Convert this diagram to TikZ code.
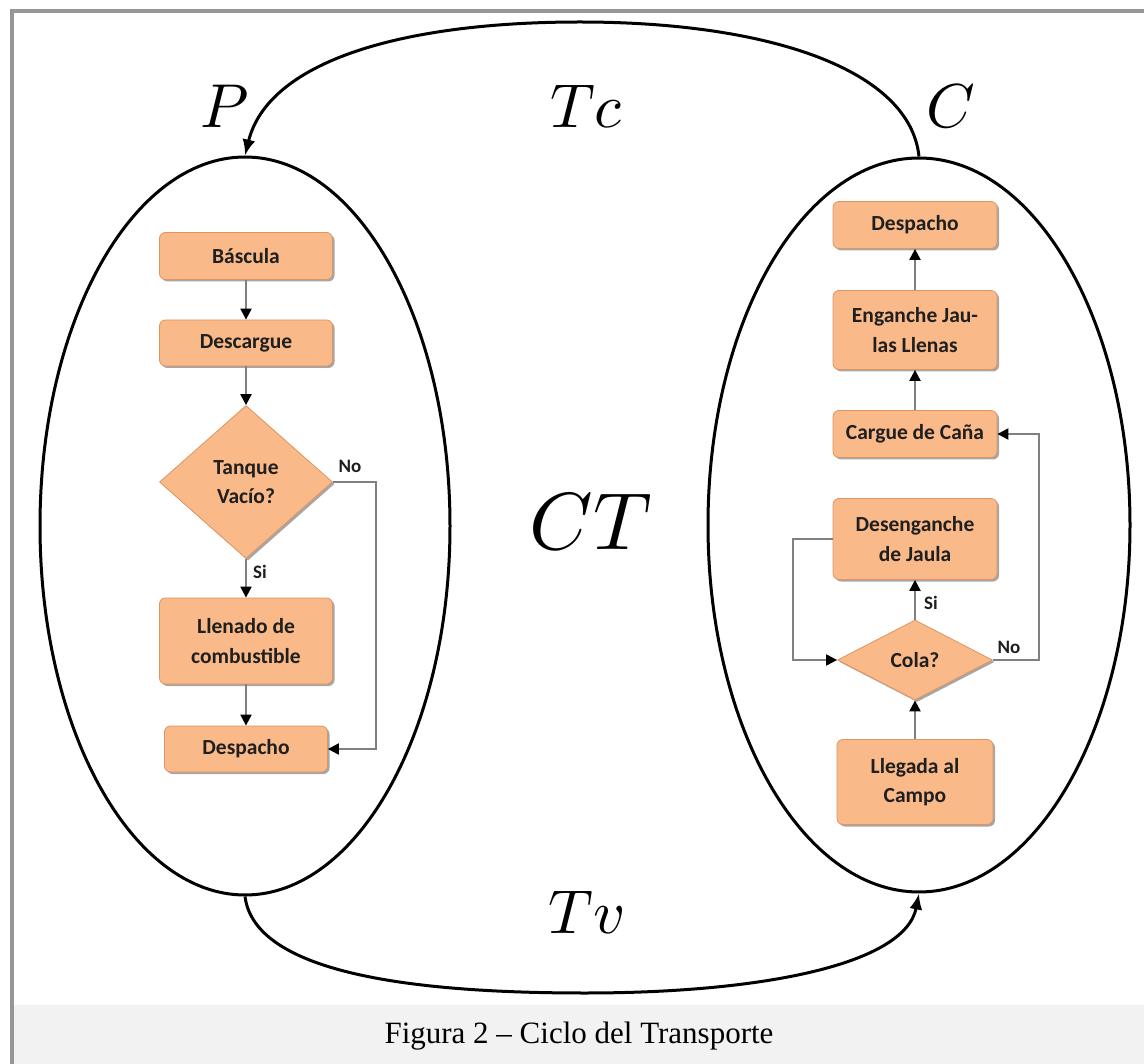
\documentclass[tikz,border=0pt]{standalone}
\usepackage{fontspec}
\newfontfamily\boxfont{Carlito}
\newfontfamily\capfont{Liberation Serif}
\usetikzlibrary{arrows.meta,shapes.geometric,shadows}
\definecolor{peach}{RGB}{249,185,137}
\definecolor{peachedge}{RGB}{224,148,98}
\definecolor{conn}{RGB}{128,128,128}
\definecolor{framegray}{RGB}{150,150,150}
\definecolor{band}{RGB}{242,242,242}
\begin{document}
\begin{tikzpicture}[x=1pt,y=-1pt,
  box/.style={rectangle, rounded corners=6pt, fill=peach, draw=peachedge, line width=0.8pt,
    drop shadow={shadow xshift=2pt,shadow yshift=-2pt,opacity=0.35,fill=black},
    font=\boxfont\bfseries\fontsize{21.5}{29.5}\selectfont, text=black!88, align=center, inner sep=0pt},
  dec/.style={diamond, fill=peach, draw=peachedge, line width=0.8pt,
    drop shadow={shadow xshift=2pt,shadow yshift=-2pt,opacity=0.35,fill=black},
    font=\boxfont\bfseries\fontsize{21.5}{29.5}\selectfont, text=black!88, align=center, inner sep=0pt},
  flow/.style={draw=conn, line width=2.2pt, -{Triangle[length=11pt,width=11pt,color=black]}},
  lbl/.style={font=\boxfont\bfseries\fontsize{19}{21}\selectfont, text=black!88},
  oval/.style={ellipse, draw=black, line width=3pt, inner sep=0pt},
  cyc/.style={draw=black, line width=3pt, -{Latex[length=16pt,width=13pt]}},
  mlbl/.style={font=\fontsize{10}{12}\selectfont, scale=6.2, inner sep=0pt}
]
\useasboundingbox (0,0) rectangle (1144,1064);
\fill[white] (0,0) rectangle (1144,1064);
\fill[band] (14,1005) rectangle (1144,1064);
\draw[framegray, line width=4pt] (12,1064) -- (12,11) -- (1144,11);

% ovals
\node[oval, minimum width=410pt, minimum height=738pt] (EL) at (245,526) {};
\node[oval, minimum width=422pt, minimum height=734pt] (ER) at (919,525) {};

% cycle arcs
\coordinate (topmid) at (580,22);
\coordinate (botmid) at (585,993);
\draw[cyc] (ER.north) .. controls (910,70) and (770,22) .. (topmid)
  .. controls (400,22) and (268,62) .. (EL.north);
\draw[cyc] (EL.south) .. controls (255,975) and (420,993) .. (botmid)
  .. controls (760,993) and (905,965) .. (ER.south);

% math labels
\node[mlbl] (P) at (225,106) {$P$};
\node[mlbl] (Tc) at (586,106) {$Tc$};
\node[mlbl] (C) at (951,106) {$C$};
\node[mlbl, scale=8.1/6.2] (CT) at (591,522) {$CT$};
\node[mlbl] (Tv) at (587,912) {$Tv$};

% left flowchart
\node[box, minimum width=173pt, minimum height=47pt] (b1) at (246,256) {Báscula};
\node[box, minimum width=173pt, minimum height=46pt] (b2) at (246,343) {Descargue};
\node[dec, minimum width=173pt, minimum height=153pt] (d1) at (246,482) {Tanque\\Vacío?};
\node[box, minimum width=173pt, minimum height=86pt] (b3) at (246,641) {Llenado de\\combustible};
\node[box, minimum width=163pt, minimum height=46pt] (b4) at (246,749) {Despacho};

\draw[flow] (b1.south) -- (b2.north);
\draw[flow] (b2.south) -- (d1.north);
\draw[flow] (d1.south) -- (b3.north);
\draw[flow] (b3.south) -- (b4.north);
\draw[flow] (d1.east) -- (376,482) |- (b4.east);
\node[lbl] (no1) at (350,466) {No};
\node[lbl] (si1) at (260,572) {Si};

% right flowchart
\node[box, minimum width=164pt, minimum height=47pt] (r1) at (915,225) {Despacho};
\node[box, minimum width=164pt, minimum height=79pt] (r2) at (915,330) {Enganche Jau-\\las Llenas};
\node[box, minimum width=164pt, minimum height=47pt] (r3) at (915,434) {Cargue de Caña};
\node[box, minimum width=164pt, minimum height=81pt] (r4) at (915,539) {Desenganche\\de Jaula};
\node[dec, minimum width=155pt, minimum height=80pt] (d2) at (915,660) {Cola?};
\node[box, minimum width=156pt, minimum height=85pt] (r5) at (915,782) {Llegada al\\Campo};

\draw[flow] (r5.north) -- (d2.south);
\draw[flow] (d2.north) -- (r4.south);
\draw[flow] (d2.east) -- (1039,660) |- (r3.east);
\draw[flow] (r4.west) -- (793,539) |- (d2.west);
\draw[flow] (r3.north) -- (r2.south);
\draw[flow] (r2.north) -- (r1.south);
\node[lbl] (si2) at (931,603) {Si};
\node[lbl] (no2) at (1009,647) {No};

% caption
\node[font=\capfont\fontsize{31}{36}\selectfont] (cap) at (579,1036) {Figura 2 – Ciclo del Transporte};
\end{tikzpicture}
\end{document}
